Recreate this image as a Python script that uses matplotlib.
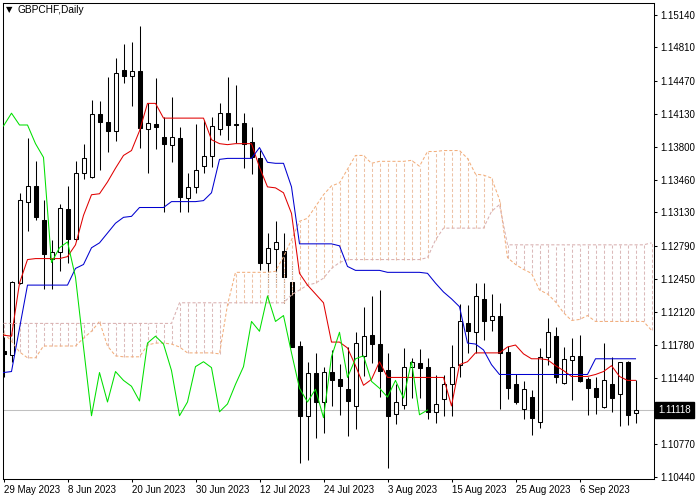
import numpy as np
import pandas as pd
import matplotlib
matplotlib.use("Agg")
import matplotlib.pyplot as plt

# GBPCHF daily candles, 29 May 2023 - 15 Sep 2023
opens = [1.1172, 1.1168, 1.1241, 1.1324, 1.1340, 1.1305, 1.1266, 1.1273, 1.1316, 1.1286,
         1.1353, 1.1349, 1.1413, 1.1405, 1.1396, 1.1458, 1.1452, 1.1457, 1.1398, 1.1403,
         1.1390, 1.1382, 1.1389, 1.1328, 1.1339, 1.1360, 1.1370, 1.1398, 1.1414, 1.1403,
         1.1404, 1.1385, 1.1368, 1.1262, 1.1276, 1.1274, 1.1242, 1.1177, 1.1106, 1.1150,
         1.1120, 1.1151, 1.1143, 1.1133, 1.1116, 1.1167, 1.1188, 1.1179, 1.1153, 1.1108,
         1.1117, 1.1156, 1.1160, 1.1156, 1.1110, 1.1123, 1.1138, 1.1158, 1.1200, 1.1191,
         1.1225, 1.1203, 1.1208, 1.1171, 1.1138, 1.1113, 1.1125, 1.1100, 1.1166, 1.1187,
         1.1139, 1.1163, 1.1167, 1.1143, 1.1134, 1.1115, 1.1138, 1.1128, 1.1161, 1.1109]
highs = [1.1186, 1.1243, 1.1333, 1.1389, 1.1365, 1.1326, 1.1285, 1.1322, 1.1340, 1.1365,
         1.1383, 1.1427, 1.1426, 1.1451, 1.1470, 1.1484, 1.1486, 1.1503, 1.1424, 1.1450,
         1.1410, 1.1431, 1.1400, 1.1353, 1.1403, 1.1407, 1.1410, 1.1424, 1.1451, 1.1443,
         1.1414, 1.1400, 1.1377, 1.1292, 1.1304, 1.1292, 1.1263, 1.1182, 1.1161, 1.1170,
         1.1156, 1.1173, 1.1159, 1.1176, 1.1191, 1.1217, 1.1228, 1.1234, 1.1170, 1.1138,
         1.1175, 1.1165, 1.1174, 1.1165, 1.1147, 1.1147, 1.1178, 1.1220, 1.1219, 1.1241,
         1.1241, 1.1230, 1.1221, 1.1177, 1.1149, 1.1141, 1.1132, 1.1175, 1.1206, 1.1196,
         1.1176, 1.1185, 1.1188, 1.1145, 1.1145, 1.1180, 1.1166, 1.1161, 1.1162, 1.1142]
lows = [1.1145, 1.1161, 1.1240, 1.1294, 1.1305, 1.1235, 1.1235, 1.1253, 1.1262, 1.1284,
        1.1347, 1.1348, 1.1356, 1.1375, 1.1386, 1.1445, 1.1421, 1.1379, 1.1353, 1.1378,
        1.1313, 1.1364, 1.1313, 1.1313, 1.1333, 1.1353, 1.1359, 1.1392, 1.1387, 1.1384,
        1.1358, 1.1352, 1.1254, 1.1227, 1.1237, 1.1221, 1.1176, 1.1058, 1.1061, 1.1083,
        1.1088, 1.1116, 1.1107, 1.1085, 1.1093, 1.1146, 1.1160, 1.1125, 1.1053, 1.1098,
        1.1113, 1.1124, 1.1124, 1.1103, 1.1099, 1.1106, 1.1106, 1.1145, 1.1170, 1.1170,
        1.1183, 1.1192, 1.1113, 1.1123, 1.1118, 1.1103, 1.1086, 1.1094, 1.1158, 1.1139,
        1.1138, 1.1122, 1.1140, 1.1107, 1.1108, 1.1114, 1.1110, 1.1096, 1.1097, 1.1099]
closes = [1.1169, 1.1242, 1.1326, 1.1340, 1.1308, 1.1271, 1.1273, 1.1318, 1.1286, 1.1353,
          1.1368, 1.1413, 1.1405, 1.1396, 1.1455, 1.1452, 1.1457, 1.1399, 1.1404, 1.1400,
          1.1383, 1.1390, 1.1329, 1.1339, 1.1356, 1.1370, 1.1401, 1.1414, 1.1402, 1.1402,
          1.1383, 1.1369, 1.1262, 1.1277, 1.1283, 1.1247, 1.1176, 1.1106, 1.1150, 1.1120,
          1.1151, 1.1142, 1.1136, 1.1121, 1.1180, 1.1187, 1.1179, 1.1152, 1.1106, 1.1120,
          1.1156, 1.1161, 1.1155, 1.1110, 1.1118, 1.1138, 1.1156, 1.1202, 1.1192, 1.1228,
          1.1202, 1.1208, 1.1170, 1.1134, 1.1120, 1.1133, 1.1104, 1.1166, 1.1191, 1.1145,
          1.1164, 1.1167, 1.1141, 1.1134, 1.1125, 1.1142, 1.1124, 1.1161, 1.1107, 1.11118]

# Ichimoku lines as shown on the chart
tenkan = [1.1188, 1.1187, 1.1241, 1.1265, 1.1266, 1.1266, 1.1266, 1.1266, 1.1268, 1.1280,
          1.1310, 1.1331, 1.1332, 1.1344, 1.1358, 1.1371, 1.1376, 1.1396, 1.1424, 1.1424,
          1.1409, 1.1409, 1.1409, 1.1409, 1.1409, 1.1409, 1.1387, 1.1383, 1.1382, 1.1383,
          1.1383, 1.1383, 1.1359, 1.1339, 1.1338, 1.1333, 1.1312, 1.1251, 1.1239, 1.1230,
          1.1221, 1.1181, 1.1181, 1.1175, 1.1157, 1.1137, 1.1143, 1.1161, 1.1145, 1.1145,
          1.1145, 1.1145, 1.1145, 1.1145, 1.1145, 1.1145, 1.1116, 1.1158, 1.1161, 1.1170,
          1.1170, 1.1170, 1.1170, 1.1176, 1.1178, 1.1169, 1.1164, 1.1164, 1.1163, 1.1157,
          1.1152, 1.1146, 1.1146, 1.1146, 1.1148, 1.1151, 1.1157, 1.1146, 1.1142, 1.1142]
kijun = [1.1150, 1.1151, 1.1195, 1.1239, 1.1239, 1.1239, 1.1239, 1.1239, 1.1239, 1.1256,
         1.1260, 1.1277, 1.1282, 1.1292, 1.1302, 1.1308, 1.1309, 1.1318, 1.1318, 1.1318,
         1.1318, 1.1324, 1.1324, 1.1324, 1.1324, 1.1325, 1.1333, 1.1367, 1.1368, 1.1368,
         1.1368, 1.1368, 1.1379, 1.1364, 1.1363, 1.1363, 1.1339, 1.1281, 1.1281, 1.1281,
         1.1281, 1.1281, 1.1279, 1.1258, 1.1254, 1.1254, 1.1254, 1.1254, 1.1252, 1.1252,
         1.1252, 1.1252, 1.1252, 1.1251, 1.1241, 1.1232, 1.1225, 1.1217, 1.1180, 1.1179,
         1.1173, 1.1158, 1.1148, 1.1148, 1.1148, 1.1148, 1.1148, 1.1148, 1.1148, 1.1148,
         1.1148, 1.1148, 1.1148, 1.1148, 1.1164, 1.1164, 1.1164, 1.1164, 1.1164, 1.1164]
# senkou spans, already shifted 26 bars ahead (two bars run past the last candle)
span_a = [1.1190, 1.1182, 1.1171, 1.1165, 1.1165, 1.1177, 1.1177, 1.1177, 1.1177, 1.1177,
          1.1185, 1.1192, 1.1202, 1.1177, 1.1167, 1.1166, 1.1166, 1.1166, 1.1178, 1.1180,
          1.1180, 1.1179, 1.1176, 1.1170, 1.1170, 1.1170, 1.1170, 1.1169, 1.1219, 1.1252,
          1.1252, 1.1252, 1.1252, 1.1252, 1.1253, 1.1268, 1.1285, 1.1304, 1.1307, 1.1319,
          1.1331, 1.1340, 1.1343, 1.1357, 1.1371, 1.1371, 1.1363, 1.1365, 1.1365, 1.1365,
          1.1365, 1.1366, 1.1360, 1.1375, 1.1375, 1.1376, 1.1376, 1.1376, 1.1368, 1.1352,
          1.1351, 1.1348, 1.1326, 1.1267, 1.1260, 1.1255, 1.1251, 1.1234, 1.1230, 1.1222,
          1.1211, 1.1203, 1.1204, 1.1208, 1.1202, 1.1202, 1.1202, 1.1202, 1.1202, 1.1202,
          1.1202, 1.1193]
span_b = [1.1200, 1.1200, 1.1200, 1.1200, 1.1200, 1.1200, 1.1200, 1.1200, 1.1200, 1.1200,
          1.1200, 1.1200, 1.1200, 1.1200, 1.1200, 1.1200, 1.1200, 1.1200, 1.1200, 1.1200,
          1.1200, 1.1200, 1.1221, 1.1221, 1.1221, 1.1221, 1.1221, 1.1221, 1.1221, 1.1221,
          1.1221, 1.1221, 1.1221, 1.1221, 1.1221, 1.1221, 1.1229, 1.1234, 1.1239, 1.1241,
          1.1246, 1.1256, 1.1262, 1.1265, 1.1265, 1.1265, 1.1265, 1.1265, 1.1265, 1.1265,
          1.1265, 1.1265, 1.1265, 1.1267, 1.1285, 1.1297, 1.1297, 1.1297, 1.1297, 1.1297,
          1.1297, 1.1314, 1.1321, 1.1280, 1.1280, 1.1280, 1.1280, 1.1280, 1.1280, 1.1280,
          1.1280, 1.1280, 1.1280, 1.1280, 1.1280, 1.1280, 1.1280, 1.1280, 1.1280, 1.1280,
          1.1280, 1.1282]

price_ticks = [1.15140, 1.14810, 1.14470, 1.14130, 1.13800, 1.13460, 1.13130,
               1.12790, 1.12450, 1.12120, 1.11780, 1.11440, 1.10770, 1.10440]
last_price = 1.11118
shift = 26

plt.rcParams['font.family'] = ['Liberation Sans', 'DejaVu Sans']

o = np.array(opens)
h = np.array(highs)
l = np.array(lows)
c = np.array(closes)
x = np.arange(len(c))
dates = pd.bdate_range("2023-05-29", periods=len(c))

fig = plt.figure(figsize=(7, 5), dpi=100)
ax = fig.add_axes([2.5 / 700, 20.7 / 500, 651 / 700, 476.6 / 500])

# current price line
ax.axhline(last_price, color="#C0C0C0", lw=0.75, zorder=1)

# candles
up = c >= o
ax.vlines(x, l, h, color="black", lw=0.75, zorder=2)
ax.bar(x[up], (c - o)[up], bottom=o[up], width=0.5, facecolor="white",
       edgecolor="black", lw=0.75, zorder=2.5)
ax.bar(x[~up], (o - c)[~up], bottom=c[~up], width=0.5, facecolor="black",
       edgecolor="black", lw=0.75, zorder=2.5)

# kumo: dotted histogram between span A and span B
sa = np.array(span_a)
sb = np.array(span_b)
xc = np.arange(len(sa))
bull = sa >= sb
dot = (0, (3, 2))
ax.vlines(xc[bull], sb[bull], sa[bull], colors="#EDC2A6", linestyles=dot,
          lw=0.75, gapcolor="white", zorder=3)
ax.vlines(xc[~bull], sa[~bull], sb[~bull], colors="#DBBABA", linestyles=dot,
          lw=0.75, gapcolor="white", zorder=3)
ax.plot(xc, sa, color="#F2AE7C", ls=dot, lw=0.75, zorder=3.2)
ax.plot(xc, sb, color="#D9B0B0", ls=dot, lw=0.75, zorder=3.2)

# tenkan, kijun, chikou
ax.plot(x, tenkan, color="#E00000", lw=0.75, zorder=4)
ax.plot(x, kijun, color="#0000D0", lw=0.75, zorder=4)
ax.plot(x[:len(c) - shift], c[shift:], color="#00E000", lw=0.75, zorder=4)

ax.set_xlim(-0.125, 81.25)
ax.set_ylim(1.10413, 1.15265)

# axes styling
for sp in ax.spines.values():
    sp.set_linewidth(0.75)
    sp.set_color("black")

ax.yaxis.tick_right()
ax.set_yticks(price_ticks)
ax.set_yticklabels([f"{p:.5f}" for p in price_ticks])
ax.tick_params(axis="y", length=2.5, width=0.75, pad=2.5, labelsize=7)

xt = x[::8]
ax.set_xticks(xt)
ax.set_xticklabels([f"{d.day} {d.strftime('%b %Y')}" for d in dates[::8]], ha="left")
ax.tick_params(axis="x", length=2.5, width=0.75, pad=1.5, labelsize=7)

# last price tag
ax.annotate(f"{last_price:.5f}", xy=(1, last_price), xycoords=("axes fraction", "data"),
            xytext=(3.5, 0), textcoords="offset points", va="center", ha="left",
            color="white", fontsize=7,
            bbox=dict(boxstyle="square,pad=0.35", fc="black", ec="black"))

# symbol header
fig.text(5.5 / 700, 1 - 10 / 500, "\u25BC", fontsize=6, va="center", ha="left",
         family="DejaVu Sans")
fig.text(18 / 700, 1 - 10 / 500, "GBPCHF,Daily", fontsize=7.3, va="center", ha="left")

fig.savefig("out.png", dpi=100)
